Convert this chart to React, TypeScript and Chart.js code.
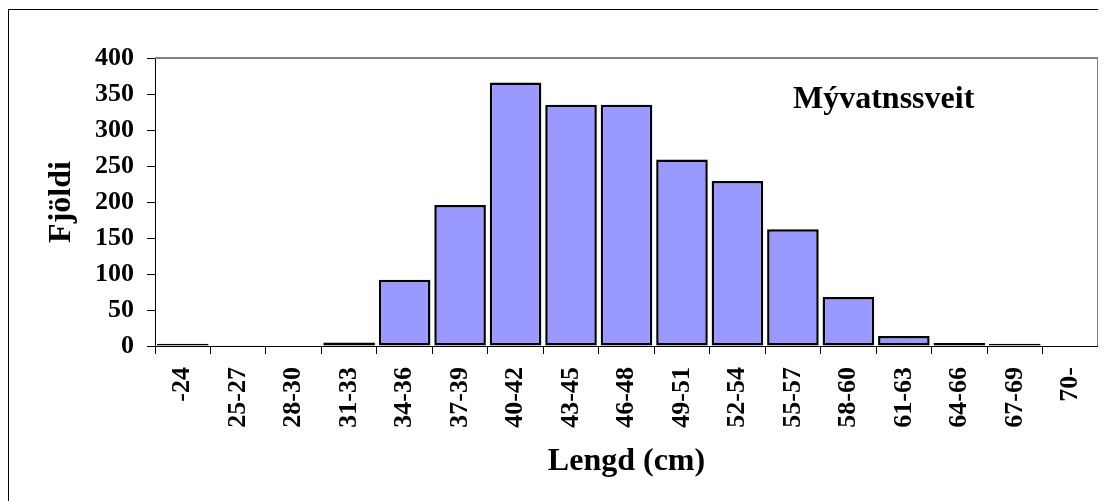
import React, { useEffect, useRef } from "react";
import { Chart, registerables } from "chart.js";

Chart.register(...registerables);

const categories = ["-24", "25-27", "28-30", "31-33", "34-36", "37-39", "40-42", "43-45", "46-48", "49-51", "52-54", "55-57", "58-60", "61-63", "64-66", "67-69", "70-"];
const counts = [3, 1, 0, 5, 92, 196, 366, 335, 335, 259, 229, 162, 68, 14, 4, 3, 0];
const yMin = 0;
const yMax = 400;
const yStep = 50;
const placeName = "Mývatnssveit";
const xTitle = "Lengd (cm)";
const yTitle = "Fjöldi";

const FONT = '"Liberation Serif", "Times New Roman", serif';

const framePlugin = {
  id: "plotFrame",
  afterDatasetsDraw(chart: any) {
    const { ctx, chartArea } = chart;
    ctx.save();
    ctx.strokeStyle = "#808080";
    ctx.lineWidth = 2;
    ctx.beginPath();
    ctx.moveTo(chartArea.left, chartArea.top);
    ctx.lineTo(chartArea.right, chartArea.top);
    ctx.lineTo(chartArea.right, chartArea.bottom);
    ctx.stroke();
    ctx.restore();
  },
  afterDraw(chart: any) {
    const { ctx, chartArea } = chart;
    ctx.save();
    ctx.font = `bold 32px ${FONT}`;
    ctx.fillStyle = "#000";
    ctx.textAlign = "left";
    ctx.textBaseline = "alphabetic";
    ctx.fillText(placeName, chartArea.left + 638, chartArea.top + 50);
    ctx.restore();
  },
};

export default function App() {
  const ref = useRef<HTMLCanvasElement>(null);
  useEffect(() => {
    document.body.style.overflow = "hidden";
    const canvas = ref.current;
    if (!canvas) return;
    const chart = new Chart(canvas, {
      type: "bar",
      data: {
        labels: categories,
        datasets: [
          {
            data: counts,
            backgroundColor: "#9999FF",
            borderColor: "#000000",
            borderWidth: 2.5,
            borderSkipped: false,
            categoryPercentage: 1,
            barPercentage: 0.93,
          },
        ],
      },
      options: {
        responsive: false,
        animation: false,
        devicePixelRatio: 1,
        layout: { padding: { top: 48, right: 8, left: 0, bottom: 0 } },
        plugins: { legend: { display: false }, tooltip: { enabled: false }, title: { display: false } },
        scales: {
          x: {
            type: "category",
            offset: true,
            grid: { offset: true, drawOnChartArea: false, drawTicks: true, tickLength: 8, color: "#000", lineWidth: 1 },
            border: { display: true, color: "#000", width: 1 },
            ticks: {
              autoSkip: false,
              minRotation: 90,
              maxRotation: 90,
              padding: 13,
              color: "#000",
              font: { family: FONT, size: 26, weight: "bold" },
            },
            title: {
              display: true,
              text: xTitle,
              color: "#000",
              font: { family: FONT, size: 32, weight: "bold", lineHeight: 1.2 },
              padding: { top: 0, bottom: 20 },
            },
            afterFit(scale: any) {
              scale.height = 155;
              scale.paddingLeft = 0;
              scale.paddingRight = 0;
            },
          },
          y: {
            min: yMin,
            max: yMax,
            grid: { drawOnChartArea: false, drawTicks: true, tickLength: 8, color: "#000", lineWidth: 1 },
            border: { display: true, color: "#000", width: 1 },
            ticks: {
              stepSize: yStep,
              padding: 13,
              color: "#000",
              font: { family: FONT, size: 26, weight: "bold" },
            },
            title: {
              display: true,
              text: yTitle,
              color: "#000",
              font: { family: FONT, size: 32, weight: "bold", lineHeight: 1.2 },
              padding: { top: 34, bottom: 0 },
            },
            afterFit(scale: any) {
              scale.width = 146;
              scale.paddingTop = 0;
              scale.paddingBottom = 0;
            },
          },
        },
      },
      plugins: [framePlugin],
    } as any);
    return () => chart.destroy();
  }, []);

  return (
    <div
      style={{
        position: "relative",
        width: 1098,
        height: 492,
        marginTop: 1,
        borderTop: "1px solid #000",
        borderLeft: "1px solid #000",
        boxSizing: "border-box",
        background: "#fff",
      }}
    >
      <canvas ref={ref} width={1097} height={491} style={{ display: "block", width: 1097, height: 491 }} />
    </div>
  );
}
